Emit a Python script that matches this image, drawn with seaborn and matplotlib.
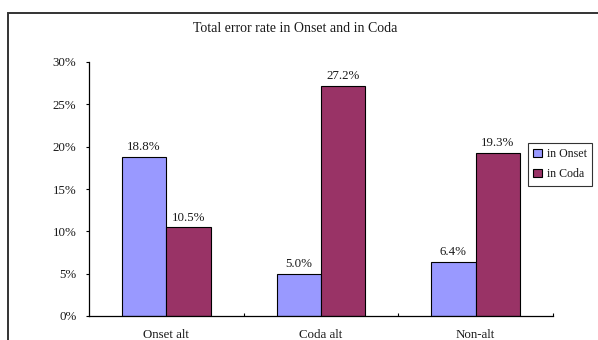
import matplotlib
matplotlib.use("Agg")
import matplotlib.pyplot as plt
from matplotlib.patches import Rectangle
from matplotlib.ticker import FixedLocator, PercentFormatter
import seaborn as sns
import pandas as pd

categories = ["Onset alt", "Coda alt", "Non-alt"]
series_names = ["in Onset", "in Coda"]
onset_rates = [18.8, 5.0, 6.4]
coda_rates = [10.5, 27.2, 19.3]
y_ticks = [0, 5, 10, 15, 20, 25, 30]
title = "Total error rate in Onset and in Coda"

df = pd.DataFrame({
    "category": categories * 2,
    "series": [series_names[0]] * 3 + [series_names[1]] * 3,
    "rate": onset_rates + coda_rates,
})

sns.set_theme(style="white")
plt.rcParams["font.family"] = ["Liberation Serif", "DejaVu Serif"]
FS = 9.3
TEXT = "#1a1a1a"

fig = plt.figure(figsize=(5.98, 3.40), dpi=100)
ax = fig.add_axes([89 / 598, 24 / 340, 464 / 598, 254 / 340])

sns.barplot(
    data=df, x="category", y="rate", hue="series",
    order=categories, hue_order=series_names,
    palette=["#9999FF", "#993366"], width=0.575,
    edgecolor="black", linewidth=0.8, saturation=1,
    errorbar=None, ax=ax, legend=True,
)

for cont in ax.containers:
    ax.bar_label(cont, fmt="%.1f%%", padding=2.5, fontsize=FS, color=TEXT)

ax.set_xlim(-0.5, 2.5)
ax.set_ylim(0, 30)
ax.set_yticks(y_ticks)
ax.yaxis.set_major_formatter(PercentFormatter(decimals=0))
ax.set_xlabel("")
ax.set_ylabel("")

for side in ("top", "right"):
    ax.spines[side].set_visible(False)
for side in ("left", "bottom"):
    ax.spines[side].set_color("black")
    ax.spines[side].set_linewidth(0.9)

ax.tick_params(axis="y", which="major", left=True, direction="out", length=2.5,
               width=0.8, color="black", pad=6.5, labelsize=FS, labelcolor=TEXT)
ax.tick_params(axis="x", which="major", bottom=False, length=0, pad=9.5,
               labelsize=FS, labelcolor=TEXT)
ax.xaxis.set_minor_locator(FixedLocator([0.5, 1.5, 2.5]))
ax.tick_params(axis="x", which="minor", bottom=True, direction="in", length=2.5,
               width=0.8, color="black")

handles, labels = ax.get_legend_handles_labels()
ax.legend_.remove()
leg = fig.legend(
    handles, labels, loc="upper left", bbox_to_anchor=(528 / 598, 1 - 143 / 340),
    fontsize=8.6, frameon=True, fancybox=False, handlelength=0.7, handleheight=0.7,
    handletextpad=0.4, borderpad=0.45, labelspacing=0.65, borderaxespad=0,
)
leg.get_frame().set_edgecolor("black")
leg.get_frame().set_linewidth(0.8)
for t in leg.get_texts():
    t.set_color(TEXT)

fig.text(295 / 598, 1 - 29 / 340, title, ha="center", va="center",
         fontsize=10, color=TEXT)

frame = Rectangle((8 / 598, -0.1), 1.2, 1 - 13 / 340 + 0.1,
                  transform=fig.transFigure, fill=False,
                  edgecolor="#333333", linewidth=1.4, clip_on=False)
fig.patches.append(frame)

fig.savefig("out.png", dpi=100)
